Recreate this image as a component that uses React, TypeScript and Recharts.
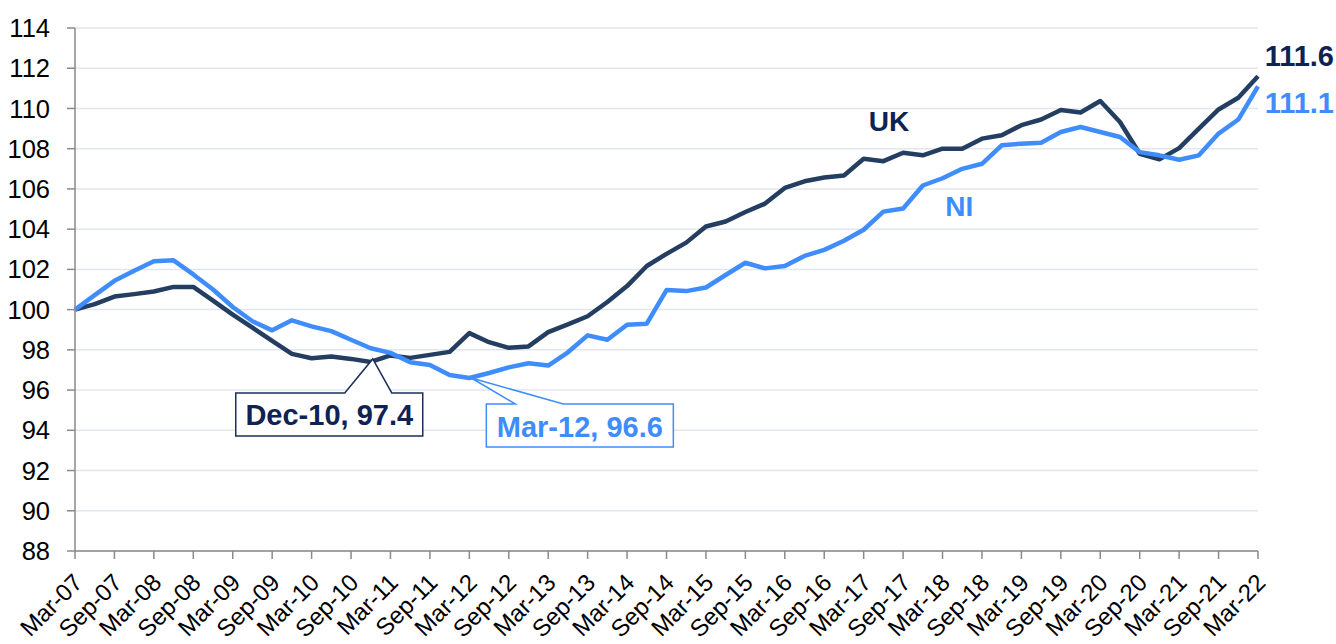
import React from 'react';
import { LineChart, Line, XAxis, YAxis, CartesianGrid } from 'recharts';

const quarters = [
    'Mar-07', 'Jun-07', 'Sep-07', 'Dec-07',
    'Mar-08', 'Jun-08', 'Sep-08', 'Dec-08',
    'Mar-09', 'Jun-09', 'Sep-09', 'Dec-09',
    'Mar-10', 'Jun-10', 'Sep-10', 'Dec-10',
    'Mar-11', 'Jun-11', 'Sep-11', 'Dec-11',
    'Mar-12', 'Jun-12', 'Sep-12', 'Dec-12',
    'Mar-13', 'Jun-13', 'Sep-13', 'Dec-13',
    'Mar-14', 'Jun-14', 'Sep-14', 'Dec-14',
    'Mar-15', 'Jun-15', 'Sep-15', 'Dec-15',
    'Mar-16', 'Jun-16', 'Sep-16', 'Dec-16',
    'Mar-17', 'Jun-17', 'Sep-17', 'Dec-17',
    'Mar-18', 'Jun-18', 'Sep-18', 'Dec-18',
    'Mar-19', 'Jun-19', 'Sep-19', 'Dec-19',
    'Mar-20', 'Jun-20', 'Sep-20', 'Dec-20',
    'Mar-21', 'Jun-21', 'Sep-21', 'Dec-21',
    'Mar-22',
];

const ukValues = [
    100.0, 100.27, 100.65, 100.77,
    100.9, 101.13, 101.13, 100.45,
    99.75, 99.1, 98.45, 97.8,
    97.58, 97.67, 97.55, 97.4,
    97.72, 97.6, 97.75, 97.9,
    98.83, 98.38, 98.1, 98.17,
    98.88, 99.27, 99.67, 100.38,
    101.17, 102.17, 102.77, 103.33,
    104.13, 104.38, 104.85, 105.27,
    106.05, 106.38, 106.57, 106.67,
    107.5, 107.38, 107.8, 107.67,
    108.0, 108.0, 108.5, 108.67,
    109.17, 109.45, 109.92, 109.8,
    110.37, 109.33, 107.75, 107.47,
    108.03, 109.0, 109.95, 110.53,
    111.6,
];

const niValues = [
    100.0, 100.72, 101.43, 101.93,
    102.4, 102.45, 101.75, 101.0,
    100.13, 99.42, 98.97, 99.47,
    99.17, 98.93, 98.5, 98.08,
    97.85, 97.38, 97.25, 96.75,
    96.6, 96.85, 97.13, 97.33,
    97.22, 97.88, 98.72, 98.5,
    99.25, 99.3, 100.97, 100.92,
    101.1, 101.72, 102.33, 102.05,
    102.17, 102.67, 102.97, 103.42,
    103.97, 104.87, 105.03, 106.17,
    106.53, 107.0, 107.25, 108.17,
    108.25, 108.3, 108.83, 109.08,
    108.83, 108.58, 107.83, 107.67,
    107.45, 107.67, 108.75, 109.45,
    111.1,
];

const yTicks = [88, 90, 92, 94, 96, 98, 100, 102, 104, 106, 108, 110, 112, 114];

const ukLow = 'Dec-10';
const niLow = 'Mar-12';

const FONT = '"Liberation Sans", Arial, sans-serif';
const UK_LINE = '#243E62';
const UK_TEXT = '#0E2352';
const NI_BLUE = '#3F8DFC';
const AXIS = '#8a8a8a';

const data = quarters.map((q, i) => ({ q, uk: ukValues[i], ni: niValues[i] }));

const XTick = ({ x, y, payload }: any) => {
    const tx = x + 9;
    const ty = y + 23;
    return (
        <text x={tx} y={ty} transform={`rotate(-45 ${tx} ${ty})`} textAnchor="end" fontSize={24} fontFamily={FONT} fill="#000">
            {payload.value}
        </text>
    );
};

const renderUkDot = (props: any) => {
    const { cx, cy, index, value } = props;
    if (quarters[index] === ukLow) {
        const left = cx - 135;
        const top = cy + 31;
        const w = 187;
        const h = 43;
        const d = `M${left},${top} L${cx - 26},${top} L${cx + 2},${cy - 3} L${cx + 21},${top} L${left + w},${top} L${left + w},${top + h} L${left},${top + h} Z`;
        return (
            <g key="uk-callout">
                <path d={d} fill="#fff" stroke="#1B2F5A" strokeWidth={1.5} />
                <text x={left + w / 2} y={cy + 63} textAnchor="middle" fontSize={29} fontWeight="bold" fontFamily={FONT} fill={UK_TEXT}>
                    {`${quarters[index]}, ${value.toFixed(1)}`}
                </text>
            </g>
        );
    }
    if (index === 41) {
        return (
            <text key="uk-name" x={cx + 5.6} y={cy - 30} textAnchor="middle" fontSize={28} fontWeight="bold" fontFamily={FONT} fill={UK_TEXT}>
                UK
            </text>
        );
    }
    if (index === quarters.length - 1) {
        return (
            <text key="uk-end" x={cx + 76} y={cy - 10} textAnchor="end" fontSize={29} fontWeight="bold" fontFamily={FONT} fill={UK_TEXT}>
                {value.toFixed(1)}
            </text>
        );
    }
    return <g key={`ukd-${index}`} />;
};

const renderNiDot = (props: any) => {
    const { cx, cy, index, value } = props;
    if (quarters[index] === niLow) {
        const left = cx + 17;
        const top = cy + 26;
        const w = 187;
        const h = 43;
        const d = `M${left},${top} L${cx + 46},${top} L${cx + 2},${cy} L${cx + 94},${top} L${left + w},${top} L${left + w},${top + h} L${left},${top + h} Z`;
        return (
            <g key="ni-callout">
                <path d={d} fill="#fff" stroke={NI_BLUE} strokeWidth={1.5} />
                <text x={left + w / 2} y={cy + 58.5} textAnchor="middle" fontSize={29} fontWeight="bold" fontFamily={FONT} fill={NI_BLUE}>
                    {`${quarters[index]}, ${value.toFixed(1)}`}
                </text>
            </g>
        );
    }
    if (index === 45) {
        return (
            <text key="ni-name" x={cx - 3} y={cy + 47} textAnchor="middle" fontSize={28} fontWeight="bold" fontFamily={FONT} fill={NI_BLUE}>
                NI
            </text>
        );
    }
    if (index === quarters.length - 1) {
        return (
            <text key="ni-end" x={cx + 76} y={cy + 26.5} textAnchor="end" fontSize={29} fontWeight="bold" fontFamily={FONT} fill={NI_BLUE}>
                {value.toFixed(1)}
            </text>
        );
    }
    return <g key={`nid-${index}`} />;
};

export default function App() {
    return (
        <div style={{ position: 'absolute', left: 0, top: 0, width: 1336, height: 644, background: '#fff' }}>
            <LineChart width={1336} height={644} data={data} margin={{ top: 28, right: 78, bottom: 0, left: 0 }}>
                <CartesianGrid vertical={false} stroke="#E3E6EB" strokeWidth={1.5} />
                <XAxis
                    dataKey="q"
                    interval={1}
                    height={93}
                    tickSize={8}
                    tickLine={{ stroke: AXIS, strokeWidth: 1.5 }}
                    axisLine={{ stroke: AXIS, strokeWidth: 1.5 }}
                    tick={<XTick />}
                />
                <YAxis
                    domain={[88, 114]}
                    ticks={yTicks}
                    interval={0}
                    width={75}
                    tickSize={8}
                    tickMargin={17}
                    tickLine={{ stroke: AXIS, strokeWidth: 1.5 }}
                    axisLine={{ stroke: AXIS, strokeWidth: 1.5 }}
                    tick={{ fill: '#000', fontSize: 25.5, fontFamily: FONT }}
                />
                <Line
                    type="linear"
                    dataKey="uk"
                    stroke={UK_LINE}
                    strokeWidth={4.5}
                    strokeLinejoin="round"
                    dot={renderUkDot}
                    activeDot={false}
                    isAnimationActive={false}
                />
                <Line
                    type="linear"
                    dataKey="ni"
                    stroke={NI_BLUE}
                    strokeWidth={4.5}
                    strokeLinejoin="round"
                    dot={renderNiDot}
                    activeDot={false}
                    isAnimationActive={false}
                />
            </LineChart>
        </div>
    );
}
